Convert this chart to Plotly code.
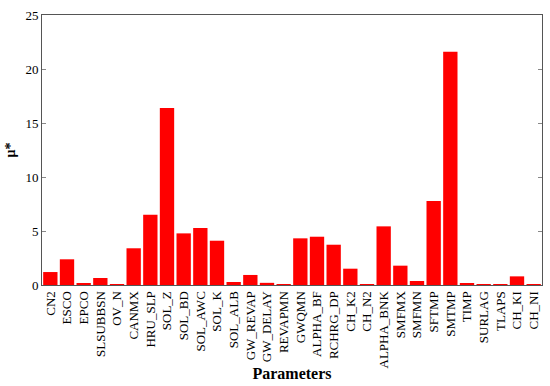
import plotly.graph_objects as go

params = ["CN2", "ESCO", "EPCO", "SLSUBBSN", "OV_N", "CANMX", "HRU_SLP", "SOL_Z",
          "SOL_BD", "SOL_AWC", "SOL_K", "SOL_ALB", "GW_REVAP", "GW_DELAY", "REVAPMN",
          "GWQMN", "ALPHA_BF", "RCHRG_DP", "CH_K2", "CH_N2", "ALPHA_BNK", "SMFMX",
          "SMFMN", "SFTMP", "SMTMP", "TIMP", "SURLAG", "TLAPS", "CH_KI", "CH_NI"]
mu_star = [1.2, 2.38, 0.15, 0.65, 0.05, 3.4, 6.5, 16.4,
           4.78, 5.28, 4.1, 0.28, 0.93, 0.2, 0.02,
           4.32, 4.47, 3.73, 1.51, 0.02, 5.43, 1.79,
           0.37, 7.78, 21.6, 0.18, 0.02, 0.02, 0.8, 0.06]
y_ticks = [0, 5, 10, 15, 20, 25]

fig = go.Figure(go.Bar(x=params, y=mu_star, marker=dict(color="#ff0000", line=dict(width=0))))

font = "Liberation Serif, Times New Roman, serif"
fig.update_layout(
    width=550, height=386,
    margin=dict(l=42, r=8, t=15, b=101),
    plot_bgcolor="white", paper_bgcolor="white",
    bargap=0.14,
    showlegend=False,
    font=dict(family=font, size=13, color="black"),
)
fig.update_xaxes(
    automargin=False,
    tickangle=-90, tickfont=dict(size=13, family=font),
    showline=True, linecolor="#555", linewidth=1, mirror=True,
    ticks="", showgrid=False,
    title=dict(text="<b>Parameters</b>", font=dict(size=16, family=font), standoff=0),
)
fig.update_yaxes(
    automargin=False,
    range=[0, 25], tickvals=y_ticks, ticktext=[str(v) for v in y_ticks],
    tickfont=dict(size=13, family=font),
    showline=True, linecolor="#555", linewidth=1, mirror="ticks",
    ticks="inside", ticklen=4, tickcolor="#888",
    showgrid=False, zeroline=False,
    title=dict(text="<b>μ*</b>", font=dict(size=14, family=font), standoff=6),
)

fig.write_html("out.html", config={"displayModeBar": False},
               post_script="document.body.style.margin='0px';document.body.style.overflow='hidden';")
